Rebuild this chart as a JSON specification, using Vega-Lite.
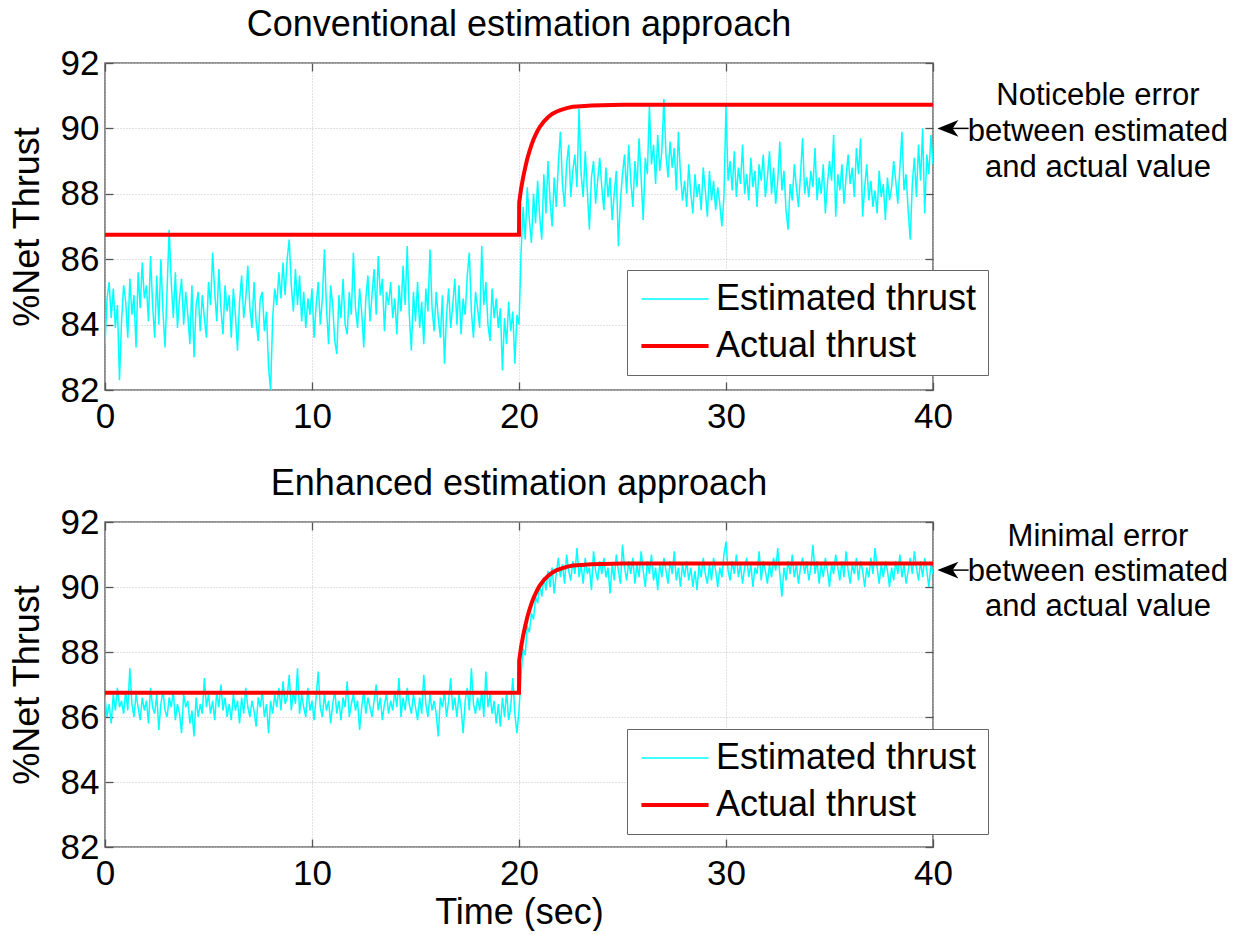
{
"$schema": "https://vega.github.io/schema/vega-lite/v6.json",
"autosize": {"type": "pad"},
"padding": {"left": 8, "top": 6, "right": 0, "bottom": 0},
"background": "white",
"config": {
  "font": "Liberation Sans",
  "view": {"stroke": "#707070", "strokeWidth": 1.6},
  "axis": {"labelFont": "Liberation Sans", "labelFontSize": 35, "labelColor": "#000000", "titleFont": "Liberation Sans", "titleFontSize": 36, "titleFontWeight": "normal", "titleColor": "#000000", "domain": false, "tickColor": "#555555", "tickSize": -8, "tickWidth": 1.3, "gridColor": "#c4c4c4", "gridDash": [1, 2], "gridWidth": 1, "labelPadding": 14, "titlePadding": 14, "labelFlush": false, "labelOverlap": false},
  "axisX": {"labelPadding": 17},
  "title": {"font": "Liberation Sans", "fontSize": 36, "fontWeight": "normal", "color": "#000000", "offset": 2, "anchor": "middle"},
  "legend": {"orient": "none", "legendX": 522, "legendY": 207, "strokeColor": "#666666", "fillColor": "#ffffff", "padding": 11, "labelFont": "Liberation Sans", "labelFontSize": 36, "labelColor": "#000000", "labelLimit": 500, "symbolType": "M-5.6,0L5.6,0", "symbolSize": 144, "symbolOffset": 19, "labelOffset": 23, "rowPadding": 11}
},
"datasets": {
"act": [{"t":0,"a":86.75},{"t":20,"a":86.75},{"t":20.01,"a":87.74},{"t":20.1,"a":88.15},{"t":20.2,"a":88.5},{"t":20.3,"a":88.8},{"t":20.4,"a":89.07},{"t":20.5,"a":89.29},{"t":20.6,"a":89.49},{"t":20.7,"a":89.66},{"t":20.8,"a":89.8},{"t":20.9,"a":89.93},{"t":21,"a":90.04},{"t":21.2,"a":90.21},{"t":21.4,"a":90.34},{"t":21.6,"a":90.44},{"t":21.8,"a":90.51},{"t":22,"a":90.56},{"t":22.3,"a":90.62},{"t":22.6,"a":90.66},{"t":23,"a":90.68},{"t":23.5,"a":90.7},{"t":24,"a":90.71},{"t":25,"a":90.72},{"t":40,"a":90.72}],
"sig": [
{"t":0,"c":83.4,"e":86.6},{"t":0.1,"c":84.8,"e":86.0},{"t":0.2,"c":85.3,"e":86.4},{"t":0.3,"c":84.2,"e":85.8},{"t":0.4,"c":85.1,"e":86.7},{"t":0.5,"c":83.9,"e":86.2},{"t":0.6,"c":84.6,"e":86.9},{"t":0.7,"c":82.3,"e":86.3},{"t":0.8,"c":84.1,"e":86.5},{"t":0.9,"c":85.2,"e":86.1},
{"t":1,"c":84.7,"e":86.8},{"t":1.1,"c":83.6,"e":86.2},{"t":1.2,"c":85.4,"e":87.5},{"t":1.3,"c":84.3,"e":86.4},{"t":1.4,"c":84.9,"e":86.0},{"t":1.5,"c":83.3,"e":86.7},{"t":1.6,"c":85.6,"e":86.3},{"t":1.7,"c":84.5,"e":85.9},{"t":1.8,"c":85.9,"e":86.6},{"t":1.9,"c":84.8,"e":86.2},
{"t":2,"c":85.2,"e":86.5},{"t":2.1,"c":84.1,"e":85.8},{"t":2.2,"c":86.1,"e":86.9},{"t":2.3,"c":84.6,"e":86.3},{"t":2.4,"c":83.6,"e":86.1},{"t":2.5,"c":85.5,"e":86.7},{"t":2.6,"c":84.0,"e":85.6},{"t":2.7,"c":86.0,"e":86.4},{"t":2.8,"c":84.4,"e":86.8},{"t":2.9,"c":83.3,"e":86.2},
{"t":3,"c":85.1,"e":86.0},{"t":3.1,"c":86.9,"e":86.6},{"t":3.2,"c":85.3,"e":86.3},{"t":3.3,"c":84.2,"e":86.8},{"t":3.4,"c":85.6,"e":85.9},{"t":3.5,"c":83.9,"e":86.4},{"t":3.6,"c":84.8,"e":86.1},{"t":3.7,"c":85.4,"e":85.5},{"t":3.8,"c":84.0,"e":86.7},{"t":3.9,"c":85.0,"e":86.3},
{"t":4,"c":84.3,"e":86.5},{"t":4.1,"c":83.4,"e":85.8},{"t":4.2,"c":85.2,"e":86.2},{"t":4.3,"c":83.0,"e":85.4},{"t":4.4,"c":84.6,"e":86.6},{"t":4.5,"c":85.0,"e":86.0},{"t":4.6,"c":83.8,"e":86.4},{"t":4.7,"c":84.9,"e":86.1},{"t":4.8,"c":84.2,"e":87.2},{"t":4.9,"c":83.6,"e":86.3},
{"t":5,"c":85.3,"e":86.7},{"t":5.1,"c":84.6,"e":86.1},{"t":5.2,"c":86.2,"e":86.5},{"t":5.3,"c":85.0,"e":85.9},{"t":5.4,"c":84.1,"e":86.8},{"t":5.5,"c":85.7,"e":86.3},{"t":5.6,"c":84.5,"e":87.0},{"t":5.7,"c":83.7,"e":86.2},{"t":5.8,"c":85.2,"e":86.6},{"t":5.9,"c":84.4,"e":86.0},
{"t":6,"c":84.9,"e":86.4},{"t":6.1,"c":83.6,"e":85.9},{"t":6.2,"c":85.1,"e":86.7},{"t":6.3,"c":84.3,"e":86.2},{"t":6.4,"c":83.2,"e":86.5},{"t":6.5,"c":84.7,"e":85.8},{"t":6.6,"c":85.5,"e":86.6},{"t":6.7,"c":84.2,"e":86.1},{"t":6.8,"c":84.8,"e":86.9},{"t":6.9,"c":85.8,"e":86.3},
{"t":7,"c":84.5,"e":86.0},{"t":7.1,"c":83.9,"e":86.5},{"t":7.2,"c":85.3,"e":86.2},{"t":7.3,"c":84.1,"e":85.7},{"t":7.4,"c":83.5,"e":86.6},{"t":7.5,"c":84.8,"e":86.3},{"t":7.6,"c":85.0,"e":86.8},{"t":7.7,"c":83.8,"e":86.0},{"t":7.8,"c":84.4,"e":86.4},{"t":7.9,"c":82.7,"e":85.5},
{"t":8,"c":82.0,"e":86.5},{"t":8.1,"c":84.2,"e":86.1},{"t":8.2,"c":85.1,"e":86.7},{"t":8.3,"c":84.6,"e":86.3},{"t":8.4,"c":85.6,"e":86.9},{"t":8.5,"c":84.8,"e":86.2},{"t":8.6,"c":85.9,"e":87.1},{"t":8.7,"c":84.9,"e":86.4},{"t":8.8,"c":86.0,"e":86.6},{"t":8.9,"c":86.6,"e":87.3},
{"t":9,"c":85.2,"e":86.2},{"t":9.1,"c":84.4,"e":86.8},{"t":9.2,"c":85.7,"e":86.4},{"t":9.3,"c":84.6,"e":87.5},{"t":9.4,"c":85.5,"e":86.1},{"t":9.5,"c":84.1,"e":86.7},{"t":9.6,"c":85.0,"e":86.3},{"t":9.7,"c":83.9,"e":86.0},{"t":9.8,"c":84.8,"e":86.9},{"t":9.9,"c":84.3,"e":86.2},
{"t":10,"c":85.1,"e":86.5},{"t":10.1,"c":83.6,"e":85.9},{"t":10.2,"c":84.6,"e":86.6},{"t":10.3,"c":85.3,"e":87.4},{"t":10.4,"c":84.0,"e":86.3},{"t":10.5,"c":84.8,"e":86.0},{"t":10.6,"c":86.3,"e":86.7},{"t":10.7,"c":84.5,"e":86.2},{"t":10.8,"c":83.4,"e":86.5},{"t":10.9,"c":85.2,"e":85.8},
{"t":11,"c":84.6,"e":86.4},{"t":11.1,"c":83.5,"e":86.8},{"t":11.2,"c":83.1,"e":86.1},{"t":11.3,"c":84.9,"e":86.5},{"t":11.4,"c":84.2,"e":85.9},{"t":11.5,"c":85.4,"e":86.6},{"t":11.6,"c":84.0,"e":86.3},{"t":11.7,"c":83.7,"e":87.1},{"t":11.8,"c":85.0,"e":86.0},{"t":11.9,"c":84.3,"e":86.4},
{"t":12,"c":86.2,"e":86.7},{"t":12.1,"c":84.5,"e":86.2},{"t":12.2,"c":83.9,"e":86.5},{"t":12.3,"c":85.1,"e":85.6},{"t":12.4,"c":84.4,"e":86.3},{"t":12.5,"c":83.3,"e":86.8},{"t":12.6,"c":84.8,"e":86.1},{"t":12.7,"c":85.5,"e":86.6},{"t":12.8,"c":84.1,"e":86.3},{"t":12.9,"c":84.9,"e":86.0},
{"t":13,"c":85.7,"e":86.5},{"t":13.1,"c":84.3,"e":87.0},{"t":13.2,"c":86.1,"e":86.2},{"t":13.3,"c":84.9,"e":86.6},{"t":13.4,"c":85.4,"e":85.9},{"t":13.5,"c":83.8,"e":86.4},{"t":13.6,"c":85.0,"e":86.7},{"t":13.7,"c":84.6,"e":86.1},{"t":13.8,"c":85.3,"e":86.5},{"t":13.9,"c":84.2,"e":86.2},
{"t":14,"c":84.8,"e":86.8},{"t":14.1,"c":83.7,"e":86.3},{"t":14.2,"c":85.2,"e":87.2},{"t":14.3,"c":84.4,"e":86.0},{"t":14.4,"c":85.8,"e":86.6},{"t":14.5,"c":84.6,"e":86.2},{"t":14.6,"c":86.4,"e":86.9},{"t":14.7,"c":84.3,"e":86.4},{"t":14.8,"c":83.2,"e":86.1},{"t":14.9,"c":85.0,"e":86.7},
{"t":15,"c":84.1,"e":86.3},{"t":15.1,"c":85.3,"e":85.9},{"t":15.2,"c":83.9,"e":86.6},{"t":15.3,"c":84.7,"e":86.1},{"t":15.4,"c":83.4,"e":87.3},{"t":15.5,"c":85.1,"e":86.4},{"t":15.6,"c":84.4,"e":86.0},{"t":15.7,"c":86.3,"e":86.7},{"t":15.8,"c":84.5,"e":86.2},{"t":15.9,"c":83.8,"e":86.5},
{"t":16,"c":85.0,"e":86.1},{"t":16.1,"c":84.2,"e":85.4},{"t":16.2,"c":83.6,"e":86.6},{"t":16.3,"c":84.9,"e":86.3},{"t":16.4,"c":82.8,"e":86.8},{"t":16.5,"c":84.3,"e":86.0},{"t":16.6,"c":85.1,"e":86.5},{"t":16.7,"c":83.9,"e":87.2},{"t":16.8,"c":84.6,"e":86.2},{"t":16.9,"c":85.4,"e":86.6},
{"t":17,"c":84.0,"e":86.0},{"t":17.1,"c":85.2,"e":86.7},{"t":17.2,"c":83.7,"e":86.3},{"t":17.3,"c":84.8,"e":85.5},{"t":17.4,"c":84.3,"e":86.5},{"t":17.5,"c":85.5,"e":86.9},{"t":17.6,"c":86.2,"e":86.2},{"t":17.7,"c":84.4,"e":87.5},{"t":17.8,"c":83.6,"e":86.4},{"t":17.9,"c":85.0,"e":86.1},
{"t":18,"c":84.5,"e":86.6},{"t":18.1,"c":83.9,"e":86.2},{"t":18.2,"c":86.4,"e":86.8},{"t":18.3,"c":84.6,"e":86.0},{"t":18.4,"c":85.3,"e":87.4},{"t":18.5,"c":84.0,"e":86.3},{"t":18.6,"c":83.5,"e":86.7},{"t":18.7,"c":85.1,"e":86.1},{"t":18.8,"c":84.2,"e":86.5},{"t":18.9,"c":84.8,"e":85.8},
{"t":19,"c":83.9,"e":86.4},{"t":19.1,"c":84.5,"e":85.7},{"t":19.2,"c":82.6,"e":86.6},{"t":19.3,"c":84.2,"e":86.0},{"t":19.4,"c":83.4,"e":86.8},{"t":19.5,"c":84.7,"e":85.9},{"t":19.6,"c":83.8,"e":86.3},{"t":19.7,"c":84.4,"e":87.2},{"t":19.8,"c":82.8,"e":86.1},{"t":19.9,"c":84.3,"e":85.5},
{"t":20,"c":84.0,"e":86.2},{"t":20.1,"c":86.2,"e":87.3},{"t":20.2,"c":87.6,"e":88.1},{"t":20.3,"c":86.6,"e":87.9},{"t":20.4,"c":88.2,"e":88.8},{"t":20.5,"c":87.2,"e":88.6},{"t":20.6,"c":86.5,"e":89.2},{"t":20.7,"c":88.0,"e":89.0},{"t":20.8,"c":87.1,"e":89.7},{"t":20.9,"c":88.4,"e":89.5},
{"t":21,"c":87.3,"e":90.1},{"t":21.1,"c":86.6,"e":89.7},{"t":21.2,"c":88.6,"e":90.3},{"t":21.3,"c":87.4,"e":89.9},{"t":21.4,"c":89.0,"e":90.5},{"t":21.5,"c":87.8,"e":90.0},{"t":21.6,"c":87.0,"e":90.6},{"t":21.7,"c":88.5,"e":89.8},{"t":21.8,"c":87.6,"e":90.4},{"t":21.9,"c":88.9,"e":90.9},
{"t":22,"c":89.9,"e":90.3},{"t":22.1,"c":88.3,"e":90.7},{"t":22.2,"c":87.6,"e":90.1},{"t":22.3,"c":88.9,"e":91.0},{"t":22.4,"c":89.5,"e":90.5},{"t":22.5,"c":87.9,"e":90.2},{"t":22.6,"c":88.7,"e":90.8},{"t":22.7,"c":89.2,"e":90.4},{"t":22.8,"c":88.2,"e":91.2},{"t":22.9,"c":90.6,"e":90.3},
{"t":23,"c":88.6,"e":90.7},{"t":23.1,"c":87.9,"e":90.1},{"t":23.2,"c":89.3,"e":90.9},{"t":23.3,"c":88.1,"e":90.4},{"t":23.4,"c":86.9,"e":90.6},{"t":23.5,"c":88.5,"e":89.9},{"t":23.6,"c":89.0,"e":91.1},{"t":23.7,"c":87.7,"e":90.5},{"t":23.8,"c":88.4,"e":90.2},{"t":23.9,"c":89.1,"e":90.8},
{"t":24,"c":88.2,"e":90.4},{"t":24.1,"c":87.5,"e":90.9},{"t":24.2,"c":88.8,"e":90.3},{"t":24.3,"c":87.9,"e":90.6},{"t":24.4,"c":88.5,"e":89.8},{"t":24.5,"c":87.2,"e":90.7},{"t":24.6,"c":88.0,"e":90.2},{"t":24.7,"c":88.7,"e":91.0},{"t":24.8,"c":86.4,"e":90.5},{"t":24.9,"c":87.8,"e":90.1},
{"t":25,"c":88.6,"e":91.3},{"t":25.1,"c":89.2,"e":90.6},{"t":25.2,"c":88.0,"e":90.2},{"t":25.3,"c":89.5,"e":90.8},{"t":25.4,"c":88.4,"e":90.4},{"t":25.5,"c":87.6,"e":90.9},{"t":25.6,"c":89.0,"e":90.1},{"t":25.7,"c":88.2,"e":90.7},{"t":25.8,"c":89.7,"e":90.3},{"t":25.9,"c":88.5,"e":91.1},
{"t":26,"c":87.2,"e":90.5},{"t":26.1,"c":89.1,"e":90.0},{"t":26.2,"c":88.6,"e":90.8},{"t":26.3,"c":90.7,"e":90.4},{"t":26.4,"c":88.9,"e":91.0},{"t":26.5,"c":89.5,"e":90.2},{"t":26.6,"c":88.3,"e":90.6},{"t":26.7,"c":89.8,"e":89.9},{"t":26.8,"c":88.7,"e":90.7},{"t":26.9,"c":89.3,"e":90.3},
{"t":27,"c":90.9,"e":90.9},{"t":27.1,"c":89.2,"e":90.5},{"t":27.2,"c":88.5,"e":90.1},{"t":27.3,"c":89.6,"e":90.8},{"t":27.4,"c":88.8,"e":90.4},{"t":27.5,"c":89.4,"e":91.1},{"t":27.6,"c":88.1,"e":90.2},{"t":27.7,"c":89.9,"e":90.6},{"t":27.8,"c":88.6,"e":90.0},{"t":27.9,"c":87.8,"e":90.7},
{"t":28,"c":88.4,"e":90.3},{"t":28.1,"c":87.6,"e":90.8},{"t":28.2,"c":88.9,"e":90.2},{"t":28.3,"c":88.0,"e":90.6},{"t":28.4,"c":87.4,"e":90.0},{"t":28.5,"c":88.6,"e":90.5},{"t":28.6,"c":87.9,"e":89.9},{"t":28.7,"c":88.3,"e":90.7},{"t":28.8,"c":87.5,"e":90.3},{"t":28.9,"c":88.8,"e":90.9},
{"t":29,"c":88.1,"e":90.4},{"t":29.1,"c":87.3,"e":90.1},{"t":29.2,"c":88.7,"e":90.7},{"t":29.3,"c":87.8,"e":90.2},{"t":29.4,"c":88.4,"e":90.9},{"t":29.5,"c":87.5,"e":90.5},{"t":29.6,"c":88.2,"e":90.0},{"t":29.7,"c":87.7,"e":90.6},{"t":29.8,"c":87.0,"e":90.3},{"t":29.9,"c":87.9,"e":91.0},
{"t":30,"c":90.7,"e":91.4},{"t":30.1,"c":88.4,"e":90.5},{"t":30.2,"c":89.0,"e":90.2},{"t":30.3,"c":88.1,"e":90.8},{"t":30.4,"c":89.3,"e":90.4},{"t":30.5,"c":87.9,"e":91.0},{"t":30.6,"c":88.8,"e":90.3},{"t":30.7,"c":88.3,"e":90.7},{"t":30.8,"c":89.5,"e":90.1},{"t":30.9,"c":88.0,"e":90.6},
{"t":31,"c":88.6,"e":90.9},{"t":31.1,"c":87.8,"e":90.3},{"t":31.2,"c":89.1,"e":90.7},{"t":31.3,"c":88.2,"e":90.0},{"t":31.4,"c":88.7,"e":90.6},{"t":31.5,"c":87.6,"e":90.4},{"t":31.6,"c":88.9,"e":91.1},{"t":31.7,"c":88.4,"e":90.2},{"t":31.8,"c":89.2,"e":90.8},{"t":31.9,"c":87.9,"e":90.5},
{"t":32,"c":88.5,"e":90.1},{"t":32.1,"c":89.3,"e":90.7},{"t":32.2,"c":88.0,"e":90.3},{"t":32.3,"c":88.8,"e":90.9},{"t":32.4,"c":87.7,"e":90.5},{"t":32.5,"c":88.4,"e":91.2},{"t":32.6,"c":89.6,"e":90.4},{"t":32.7,"c":88.1,"e":89.7},{"t":32.8,"c":88.7,"e":90.6},{"t":32.9,"c":87.5,"e":90.2},
{"t":33,"c":86.9,"e":90.8},{"t":33.1,"c":88.3,"e":90.4},{"t":33.2,"c":87.8,"e":91.0},{"t":33.3,"c":88.9,"e":90.3},{"t":33.4,"c":88.2,"e":90.7},{"t":33.5,"c":87.6,"e":90.1},{"t":33.6,"c":88.6,"e":90.6},{"t":33.7,"c":89.7,"e":90.9},{"t":33.8,"c":88.0,"e":90.4},{"t":33.9,"c":88.5,"e":90.8},
{"t":34,"c":87.9,"e":90.2},{"t":34.1,"c":88.7,"e":90.6},{"t":34.2,"c":88.2,"e":91.3},{"t":34.3,"c":89.4,"e":90.4},{"t":34.4,"c":87.8,"e":90.8},{"t":34.5,"c":88.5,"e":90.1},{"t":34.6,"c":88.0,"e":90.7},{"t":34.7,"c":88.9,"e":90.3},{"t":34.8,"c":87.4,"e":90.9},{"t":34.9,"c":88.3,"e":90.5},
{"t":35,"c":89.0,"e":90.0},{"t":35.1,"c":88.4,"e":90.7},{"t":35.2,"c":89.8,"e":90.4},{"t":35.3,"c":87.3,"e":91.0},{"t":35.4,"c":88.6,"e":90.6},{"t":35.5,"c":88.1,"e":90.2},{"t":35.6,"c":88.9,"e":90.8},{"t":35.7,"c":87.7,"e":90.3},{"t":35.8,"c":88.5,"e":91.1},{"t":35.9,"c":89.2,"e":90.5},
{"t":36,"c":88.3,"e":90.1},{"t":36.1,"c":88.8,"e":90.7},{"t":36.2,"c":87.9,"e":90.4},{"t":36.3,"c":89.4,"e":90.9},{"t":36.4,"c":88.6,"e":90.2},{"t":36.5,"c":89.7,"e":90.8},{"t":36.6,"c":87.3,"e":90.5},{"t":36.7,"c":88.2,"e":90.0},{"t":36.8,"c":88.9,"e":90.6},{"t":36.9,"c":87.8,"e":90.3},
{"t":37,"c":88.4,"e":90.9},{"t":37.1,"c":87.6,"e":90.4},{"t":37.2,"c":88.1,"e":91.2},{"t":37.3,"c":87.4,"e":90.6},{"t":37.4,"c":88.7,"e":90.1},{"t":37.5,"c":87.9,"e":90.7},{"t":37.6,"c":88.3,"e":90.3},{"t":37.7,"c":87.2,"e":90.8},{"t":37.8,"c":88.5,"e":90.5},{"t":37.9,"c":87.8,"e":90.0},
{"t":38,"c":88.2,"e":90.6},{"t":38.1,"c":89.0,"e":90.2},{"t":38.2,"c":88.4,"e":90.8},{"t":38.3,"c":87.7,"e":90.4},{"t":38.4,"c":88.8,"e":91.0},{"t":38.5,"c":89.9,"e":90.3},{"t":38.6,"c":88.1,"e":90.7},{"t":38.7,"c":88.6,"e":90.1},{"t":38.8,"c":87.5,"e":90.5},{"t":38.9,"c":86.6,"e":90.9},
{"t":39,"c":88.3,"e":90.4},{"t":39.1,"c":89.1,"e":91.1},{"t":39.2,"c":87.9,"e":90.6},{"t":39.3,"c":89.5,"e":90.2},{"t":39.4,"c":88.4,"e":90.8},{"t":39.5,"c":90.0,"e":90.3},{"t":39.6,"c":87.4,"e":90.9},{"t":39.7,"c":89.2,"e":90.5},{"t":39.8,"c":88.6,"e":90.0},{"t":39.9,"c":89.8,"e":90.7},
{"t":40,"c":88.9,"e":90.4}
]
},
"spacing": 30,
"resolve": {"scale": {"color": "independent", "strokeWidth": "independent"}},
"vconcat": [
{
  "title": {"text": "Conventional estimation approach"},
  "width": 828, "height": 327,
  "resolve": {"axis": {"x": "independent", "y": "independent"}},
  "layer": [
    {"data": {"name": "sig"}, "mark": {"type": "line", "clip": true},
     "encoding": {
       "x": {"field": "t", "type": "quantitative", "scale": {"domain": [0, 40], "nice": false, "zero": false}, "axis": {"title": null, "values": [0, 10, 20, 30, 40]}},
       "y": {"field": "c", "type": "quantitative", "scale": {"domain": [82, 92], "nice": false, "zero": false}, "axis": {"title": "%Net Thrust", "values": [82, 84, 86, 88, 90, 92]}},
       "color": {"datum": "Estimated thrust", "type": "nominal", "scale": {"domain": ["Estimated thrust", "Actual thrust"], "range": ["#00FFFF", "#FF0000"]}, "legend": {"title": null}},
       "strokeWidth": {"datum": "Estimated thrust", "type": "nominal", "scale": {"type": "point", "padding": 0, "domain": ["Estimated thrust", "Actual thrust"], "range": [1.5, 4]}, "legend": {"title": null}}
     }},
    {"data": {"name": "act"}, "mark": {"type": "line", "clip": true},
     "encoding": {
       "x": {"field": "t", "type": "quantitative", "axis": {"orient": "top", "labels": false, "grid": false, "title": null, "values": [0, 10, 20, 30, 40]}},
       "y": {"field": "a", "type": "quantitative", "axis": {"orient": "right", "labels": false, "grid": false, "title": null, "values": [82, 84, 86, 88, 90, 92]}},
       "color": {"datum": "Actual thrust", "type": "nominal"},
       "strokeWidth": {"datum": "Actual thrust", "type": "nominal"}
     }},
    {"data": {"values": [{"t": 40.72, "v": 90.0}]}, "mark": {"type": "point", "shape": "M-1,0L1,-0.8L0.45,0L1,0.8Z", "filled": true, "color": "#000000", "size": 441, "opacity": 1},
     "encoding": {"x": {"field": "t", "type": "quantitative", "axis": null}, "y": {"field": "v", "type": "quantitative", "axis": null}}},
    {"data": {"values": [{"t": 40.9, "t2": 41.72, "v": 90.0}]}, "mark": {"type": "rule", "color": "#000000", "strokeWidth": 1.5},
     "encoding": {"x": {"field": "t", "type": "quantitative", "axis": null}, "x2": {"field": "t2"}, "y": {"field": "v", "type": "quantitative", "axis": null}}},
    {"data": {"values": [{"t": 47.97, "v": 91.0, "note": "Noticeble error|between estimated|and actual value"}]}, "mark": {"type": "text", "fontSize": 31, "lineHeight": 36, "lineBreak": "|", "align": "center", "baseline": "middle", "color": "#000000", "font": "Liberation Sans"},
     "encoding": {"x": {"field": "t", "type": "quantitative", "axis": null}, "y": {"field": "v", "type": "quantitative", "axis": null}, "text": {"field": "note"}}}
  ]
},
{
  "title": {"text": "Enhanced estimation approach"},
  "width": 828, "height": 325,
  "resolve": {"axis": {"x": "independent", "y": "independent"}},
  "layer": [
    {"data": {"name": "sig"}, "mark": {"type": "line", "clip": true},
     "encoding": {
       "x": {"field": "t", "type": "quantitative", "scale": {"domain": [0, 40], "nice": false, "zero": false}, "axis": {"title": "Time (sec)", "titlePadding": 4, "values": [0, 10, 20, 30, 40]}},
       "y": {"field": "e", "type": "quantitative", "scale": {"domain": [82, 92], "nice": false, "zero": false}, "axis": {"title": "%Net Thrust", "values": [82, 84, 86, 88, 90, 92]}},
       "color": {"datum": "Estimated thrust", "type": "nominal", "scale": {"domain": ["Estimated thrust", "Actual thrust"], "range": ["#00FFFF", "#FF0000"]}, "legend": {"title": null}},
       "strokeWidth": {"datum": "Estimated thrust", "type": "nominal", "scale": {"type": "point", "padding": 0, "domain": ["Estimated thrust", "Actual thrust"], "range": [1.5, 4]}, "legend": {"title": null}}
     }},
    {"data": {"name": "act"}, "mark": {"type": "line", "clip": true},
     "encoding": {
       "x": {"field": "t", "type": "quantitative", "axis": {"orient": "top", "labels": false, "grid": false, "title": null, "values": [0, 10, 20, 30, 40]}},
       "y": {"field": "a", "type": "quantitative", "axis": {"orient": "right", "labels": false, "grid": false, "title": null, "values": [82, 84, 86, 88, 90, 92]}},
       "color": {"datum": "Actual thrust", "type": "nominal"},
       "strokeWidth": {"datum": "Actual thrust", "type": "nominal"}
     }},
    {"data": {"values": [{"t": 40.72, "v": 90.52}]}, "mark": {"type": "point", "shape": "M-1,0L1,-0.8L0.45,0L1,0.8Z", "filled": true, "color": "#000000", "size": 441, "opacity": 1},
     "encoding": {"x": {"field": "t", "type": "quantitative", "axis": null}, "y": {"field": "v", "type": "quantitative", "axis": null}}},
    {"data": {"values": [{"t": 40.9, "t2": 41.72, "v": 90.52}]}, "mark": {"type": "rule", "color": "#000000", "strokeWidth": 1.5},
     "encoding": {"x": {"field": "t", "type": "quantitative", "axis": null}, "x2": {"field": "t2"}, "y": {"field": "v", "type": "quantitative", "axis": null}}},
    {"data": {"values": [{"t": 47.97, "v": 91.54, "note": "Minimal error|between estimated|and actual value"}]}, "mark": {"type": "text", "fontSize": 31, "lineHeight": 35, "lineBreak": "|", "align": "center", "baseline": "middle", "color": "#000000", "font": "Liberation Sans"},
     "encoding": {"x": {"field": "t", "type": "quantitative", "axis": null}, "y": {"field": "v", "type": "quantitative", "axis": null}, "text": {"field": "note"}}}
  ]
}
]
}
